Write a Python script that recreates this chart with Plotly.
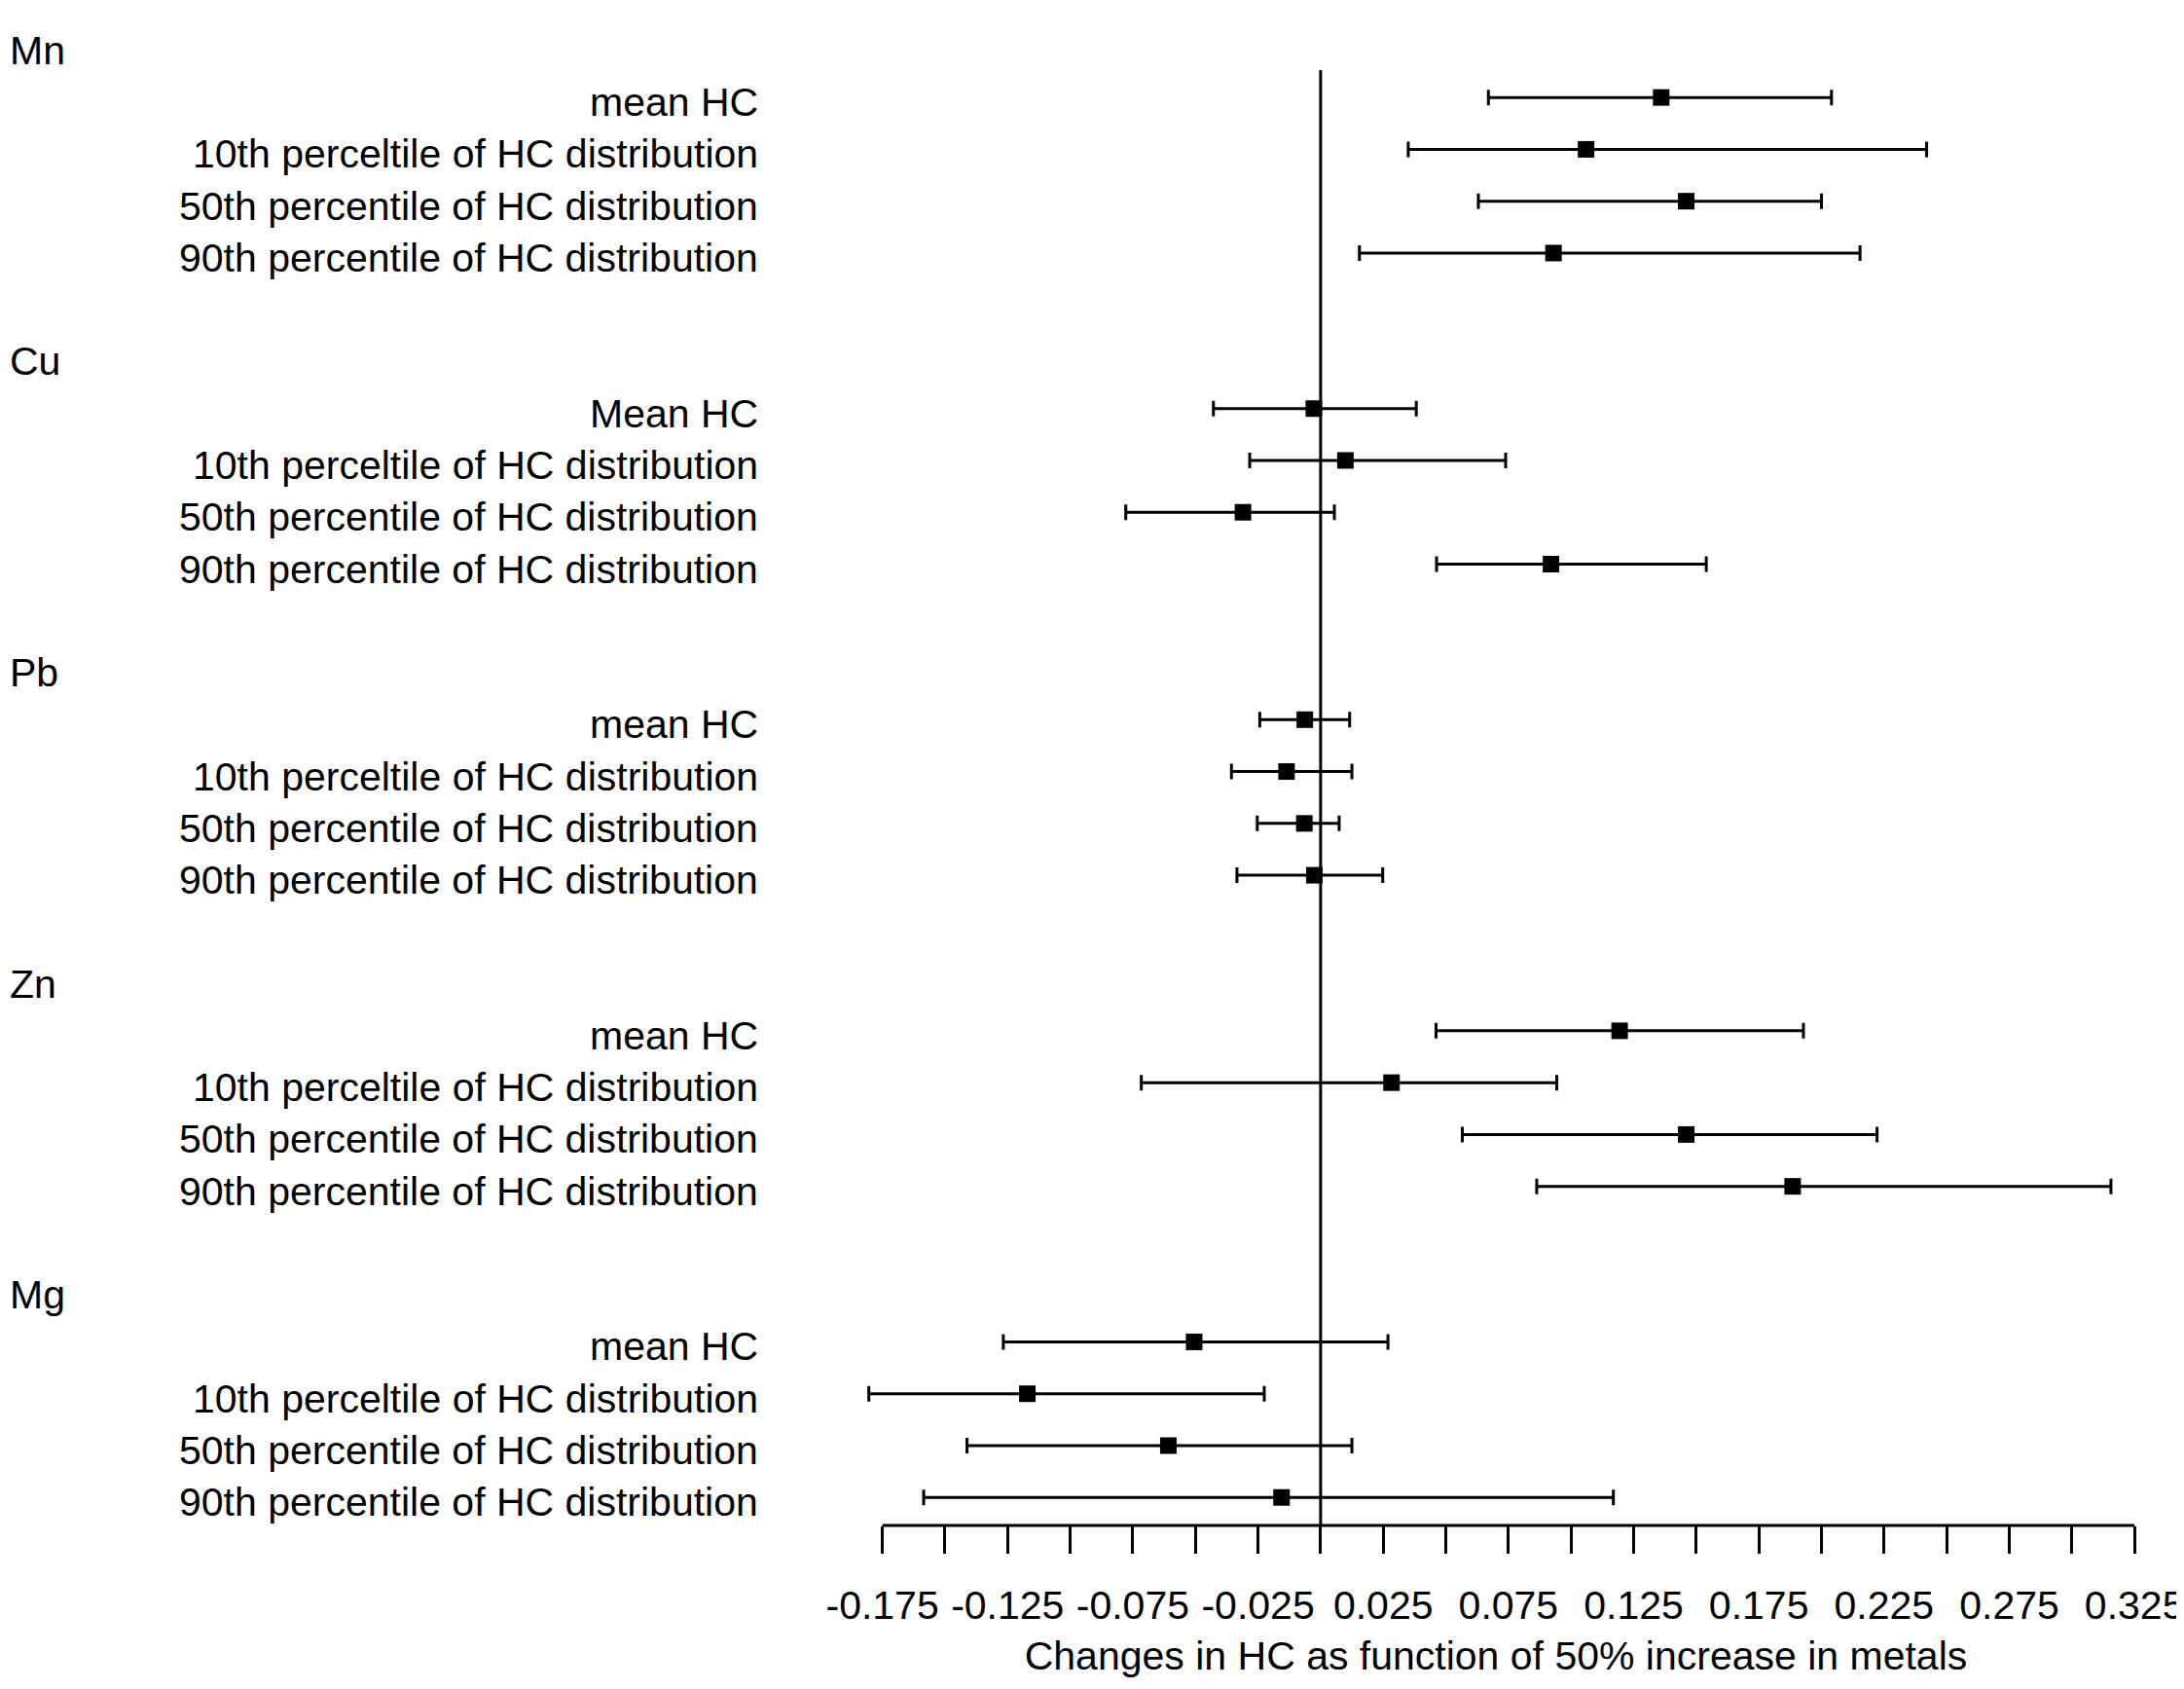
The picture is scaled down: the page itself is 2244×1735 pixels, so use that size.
import plotly.graph_objects as go

# ---------------- data ----------------
metals = ["Mn", "Cu", "Pb", "Zn", "Mg"]
row_labels = {
    "Mn": ["mean HC", "10th perceltile of HC distribution", "50th percentile of HC distribution", "90th percentile of HC distribution"],
    "Cu": ["Mean HC", "10th perceltile of HC distribution", "50th percentile of HC distribution", "90th percentile of HC distribution"],
    "Pb": ["mean HC", "10th perceltile of HC distribution", "50th percentile of HC distribution", "90th percentile of HC distribution"],
    "Zn": ["mean HC", "10th perceltile of HC distribution", "50th percentile of HC distribution", "90th percentile of HC distribution"],
    "Mg": ["mean HC", "10th perceltile of HC distribution", "50th percentile of HC distribution", "90th percentile of HC distribution"],
}
estimate = {
    "Mn": [0.136, 0.106, 0.146, 0.093],
    "Cu": [-0.0027, 0.0099, -0.031, 0.092],
    "Pb": [-0.0063, -0.0136, -0.0065, -0.0025],
    "Zn": [0.1194, 0.0283, 0.146, 0.1885],
    "Mg": [-0.0505, -0.1171, -0.0608, -0.0156],
}
lower = {
    "Mn": [0.067, 0.035, 0.063, 0.0155],
    "Cu": [-0.0428, -0.0283, -0.0778, 0.0463],
    "Pb": [-0.0243, -0.0356, -0.0253, -0.0334],
    "Zn": [0.0461, -0.0716, 0.0566, 0.0863],
    "Mg": [-0.1267, -0.1804, -0.1412, -0.1585],
}
upper = {
    "Mn": [0.204, 0.242, 0.200, 0.2154],
    "Cu": [0.0382, 0.0739, 0.0055, 0.154],
    "Pb": [0.0116, 0.0125, 0.0074, 0.0248],
    "Zn": [0.1928, 0.0943, 0.2222, 0.3156],
    "Mg": [0.0269, -0.0225, 0.0125, 0.1169],
}
tick_vals = [-0.175, -0.15, -0.125, -0.1, -0.075, -0.05, -0.025, 0.0, 0.025, 0.05, 0.075,
             0.1, 0.125, 0.15, 0.175, 0.2, 0.225, 0.25, 0.275, 0.3, 0.325]
tick_text = ["-0.175", "", "-0.125", "", "-0.075", "", "-0.025", "", "0.025", "", "0.075",
             "", "0.125", "", "0.175", "", "0.225", "", "0.275", "", "0.325"]
x_title = "Changes in HC as function of 50% increase in metals"

# ---------------- layout constants ----------------
W, H = 2236, 1727
ML, MR, MT, MB = 860, 35, 0, 168
XR = [-0.19, 0.33]
Y_BOTTOM, Y_TOP = 28.54, -0.73
FONT = "Liberation Sans, Arial, sans-serif"
FS = 41
plot_w = W - ML - MR

xs, ys, ep, em = [], [], [], []
annotations = []
for g, m in enumerate(metals):
    header_y = 6 * g
    annotations.append(dict(text=m, xref="paper", yref="y", x=(-2 - ML) / plot_w, y=header_y,
                            xanchor="left", yanchor="middle", showarrow=False, yshift=-5,
                            font=dict(family=FONT, size=FS, color="black")))
    for r in range(4):
        yv = header_y + r + 1
        xs.append(estimate[m][r])
        ys.append(yv)
        ep.append(upper[m][r] - estimate[m][r])
        em.append(estimate[m][r] - lower[m][r])
        annotations.append(dict(text=row_labels[m][r], xref="paper", yref="y", x=(773 - ML) / plot_w, y=yv,
                                xanchor="right", yanchor="middle", showarrow=False, yshift=-5,
                                font=dict(family=FONT, size=FS, color="black")))

fig = go.Figure()
fig.add_trace(go.Scatter(
    x=xs, y=ys, mode="markers",
    marker=dict(symbol="square", size=17, color="black", line=dict(width=0)),
    error_x=dict(type="data", symmetric=False, array=ep, arrayminus=em,
                 color="black", thickness=3, width=8),
    showlegend=False, hoverinfo="skip",
))

shapes = [
    dict(type="line", xref="x", yref="y", x0=0, x1=0, y0=0.47, y1=Y_BOTTOM,
         line=dict(color="black", width=3)),
    dict(type="line", xref="x", yref="paper", x0=tick_vals[0], x1=tick_vals[-1], y0=0, y1=0,
         line=dict(color="black", width=3)),
]

fig.update_layout(
    width=W, height=H,
    margin=dict(l=ML, r=MR, t=MT, b=MB),
    paper_bgcolor="white", plot_bgcolor="white",
    font=dict(family=FONT, size=FS, color="black"),
    annotations=annotations,
    shapes=shapes,
    xaxis=dict(range=XR, showgrid=False, zeroline=False, showline=False,
               tickmode="array", tickvals=tick_vals, ticktext=tick_text,
               ticks="outside", ticklen=28, tickwidth=3, tickcolor="black",
               ticklabeloverflow="allow", ticklabelstandoff=18,
               tickfont=dict(family=FONT, size=FS, color="black"),
               title=dict(text=x_title, font=dict(family=FONT, size=FS, color="black"), standoff=15)),
    yaxis=dict(range=[Y_BOTTOM, Y_TOP], showgrid=False, zeroline=False, showline=False,
               showticklabels=False, ticks=""),
)

fig.write_html("out.html")
